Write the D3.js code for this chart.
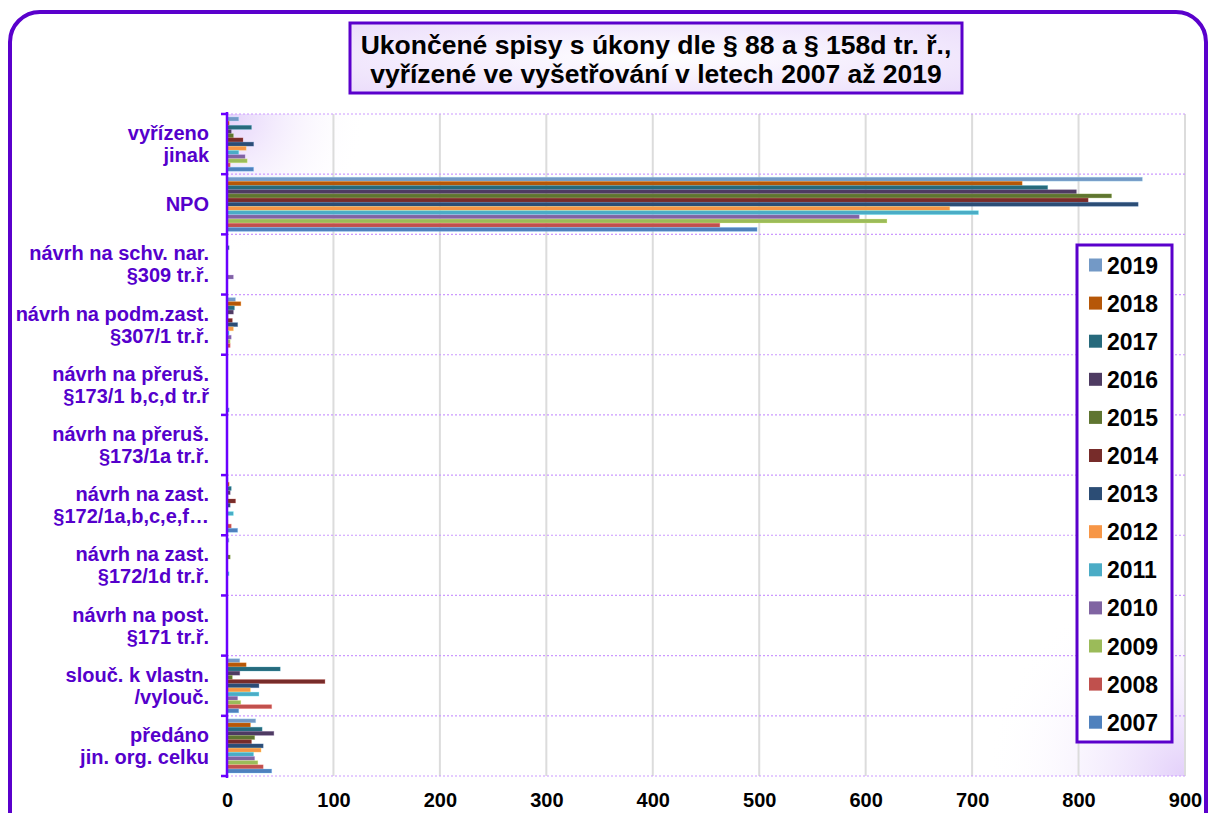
<!DOCTYPE html>
<html><head><meta charset="utf-8">
<script src="https://cdn.jsdelivr.net/npm/d3@7"></script>
<style>
html,body{margin:0;padding:0;background:#fff;}
svg{display:block;font-family:"Liberation Sans",Arial,sans-serif;}
</style></head>
<body><svg id="c" width="1210" height="813"></svg>
<script>
// ---- data ----
const categories = [
  ["vyřízeno","jinak"],
  ["NPO"],
  ["návrh na schv. nar.","§309 tr.ř."],
  ["návrh na podm.zast.","§307/1 tr.ř."],
  ["návrh na přeruš.","§173/1 b,c,d tr.ř"],
  ["návrh na přeruš.","§173/1a tr.ř."],
  ["návrh na zast.","§172/1a,b,c,e,f…"],
  ["návrh na zast.","§172/1d tr.ř."],
  ["návrh na post.","§171 tr.ř."],
  ["slouč. k vlastn.","/vylouč."],
  ["předáno","jin. org. celku"]
];
const years = ["2019","2018","2017","2016","2015","2014","2013","2012","2011","2010","2009","2008","2007"];
const colors = ["#7399C6","#B65708","#276A7C","#4E3B62","#5F7530","#772C2A","#2C4D75","#F79646","#4BACC6","#8064A2","#9BBB59","#C0504D","#4F81BD"];
const v2019 = [11, 860, 0, 8, 0, 0, 1, 2, 0, 12, 27];
const v2018 = [2, 747, 0, 13, 0, 0, 2, 0, 0, 18, 22];
const v2017 = [23, 771, 2, 7, 0, 0, 4, 0, 0, 50, 33];
const v2016 = [4, 798, 0, 6, 0, 0, 3, 0, 0, 12, 44];
const v2015 = [6, 831, 0, 1, 0, 0, 1, 3, 0, 5, 26];
const v2014 = [15, 809, 0, 5, 0, 0, 8, 0, 0, 92, 23];
const v2013 = [25, 856, 0, 10, 0, 0, 3, 0, 0, 30, 34];
const v2012 = [18, 679, 0, 6, 0, 0, 0, 0, 0, 22, 32];
const v2011 = [11, 706, 0, 2, 0, 0, 6, 2, 0, 30, 25];
const v2010 = [17, 594, 6, 4, 0, 0, 0, 0, 0, 10, 26];
const v2009 = [19, 620, 0, 3, 0, 0, 1, 0, 0, 13, 29];
const v2008 = [3, 463, 0, 3, 0, 0, 4, 0, 0, 42, 34];
const v2007 = [25, 498, 0, 0, 2, 0, 10, 0, 0, 11, 42];
const seriesValues = [v2019,v2018,v2017,v2016,v2015,v2014,v2013,v2012,v2011,v2010,v2009,v2008,v2007];
const xTicks = [0,100,200,300,400,500,600,700,800,900];
const titleLines = ["Ukončené spisy s úkony dle § 88 a § 158d tr. ř.,","vyřízené ve vyšetřování v letech 2007 až 2019"];

// ---- drawing ----
const svg = d3.select("#c");
const purple = "#5A00CC";
const L = 227, R = 1185, T = 114, B = 776;
const defs = svg.append("defs");
const g1 = defs.append("radialGradient").attr("id","gTL").attr("gradientUnits","userSpaceOnUse")
  .attr("cx",L).attr("cy",T).attr("r",140);
g1.append("stop").attr("offset","0").attr("stop-color","#E3D0FA");
g1.append("stop").attr("offset","1").attr("stop-color","#ffffff").attr("stop-opacity",0);
const g2 = defs.append("radialGradient").attr("id","gBR").attr("gradientUnits","userSpaceOnUse")
  .attr("cx",R).attr("cy",B).attr("r",200);
g2.append("stop").attr("offset","0").attr("stop-color","#E3D0FA");
g2.append("stop").attr("offset","1").attr("stop-color","#ffffff").attr("stop-opacity",0);
const g3 = defs.append("radialGradient").attr("id","gTitle").attr("cx","0.5").attr("cy","0.5").attr("r","0.7");
g3.append("stop").attr("offset","0").attr("stop-color","#ffffff");
g3.append("stop").attr("offset","1").attr("stop-color","#EBDDFB");

svg.append("rect").attr("width",1210).attr("height",813).attr("fill","#fff");
// outer frame
svg.append("rect").attr("x",10).attr("y",12).attr("width",1196).attr("height",900)
  .attr("rx",30).attr("fill","none").attr("stroke",purple).attr("stroke-width",4);

// plot background
svg.append("rect").attr("x",L).attr("y",T).attr("width",R-L).attr("height",B-T).attr("fill","url(#gTL)");
svg.append("rect").attr("x",L).attr("y",T).attr("width",R-L).attr("height",B-T).attr("fill","url(#gBR)");

const x = d3.scaleLinear().domain([0,900]).range([L,R]);
const y = d3.scaleBand().domain(d3.range(categories.length)).range([T,B]).padding(0);
const yi = d3.scaleBand().domain(d3.range(years.length)).range([3, y.bandwidth()-3]).paddingInner(0.05);

// vertical gridlines
svg.append("g").selectAll("line").data(xTicks.slice(1)).join("line")
  .attr("x1",d=>x(d)).attr("x2",d=>x(d)).attr("y1",T).attr("y2",B)
  .attr("stroke","#DCDCDC").attr("stroke-width",2);
// horizontal dashed gridlines
const bounds = d3.range(categories.length+1).map(i => i<categories.length ? y(i) : B);
svg.append("g").selectAll("line").data(bounds).join("line")
  .attr("x1",L).attr("x2",R).attr("y1",d=>d).attr("y2",d=>d)
  .attr("stroke","#CC99FF").attr("stroke-width",1.2).attr("stroke-dasharray","2,2");

// bars
const bars = svg.append("g");
seriesValues.forEach((vals, si) => {
  bars.append("g").selectAll("rect").data(vals).join("rect")
    .attr("x", x(0))
    .attr("y", (d,ci) => y(ci) + yi(si))
    .attr("width", d => x(d) - x(0))
    .attr("height", yi.bandwidth())
    .attr("fill", colors[si])
    .attr("stroke", d3.color(colors[si]).brighter(1.2).copy({opacity:0.35}))
    .attr("stroke-width", 0.8);
});

// y axis line and ticks
svg.append("line").attr("x1",L).attr("x2",L).attr("y1",T-2).attr("y2",B+2)
  .attr("stroke","#6A00FF").attr("stroke-width",2.5);
svg.append("g").selectAll("line").data(bounds).join("line")
  .attr("x1",L-6).attr("x2",L).attr("y1",d=>d).attr("y2",d=>d)
  .attr("stroke","#6A00FF").attr("stroke-width",2.5);

// category labels
const cl = svg.append("g").attr("font-weight","bold").attr("font-size",20).attr("fill","#5500CC").attr("text-anchor","end");
categories.forEach((lines, i) => {
  const cy = y(i) + y.bandwidth()/2;
  const lh = 22;
  const t = cl.append("text").attr("x",209).attr("y", cy - (lines.length-1)*lh/2 + 7);
  lines.forEach((ln, k) => t.append("tspan").attr("x",209).attr("dy", k===0?0:lh).text(ln));
});

// x axis labels
const xAxis = d3.axisBottom(x).tickValues(xTicks).tickSize(0).tickPadding(0);
const xa = svg.append("g").attr("transform",`translate(0,${B+31})`).call(xAxis);
xa.select(".domain").remove();
xa.selectAll("text").attr("font-size",20).attr("font-weight","bold").attr("fill","#000")
  .attr("font-family",'"Liberation Sans",Arial,sans-serif').attr("dy","0");

// title
svg.append("rect").attr("x",350).attr("y",23).attr("width",612).attr("height",70)
  .attr("fill","url(#gTitle)").attr("stroke",purple).attr("stroke-width",3);
const tt = svg.append("text").attr("text-anchor","middle").attr("font-weight","bold").attr("font-size",26.5).attr("fill","#000");
titleLines.forEach((ln,k)=> tt.append("tspan").attr("x",656).attr("y",54 + k*29).text(ln));

// legend
svg.append("rect").attr("x",1077).attr("y",245).attr("width",95).attr("height",497)
  .attr("fill","#fff").attr("stroke",purple).attr("stroke-width",3);
const lg = svg.append("g");
years.forEach((yr,i)=>{
  const cy = 265 + i*38.1;
  lg.append("rect").attr("x",1089).attr("y",cy-6.5).attr("width",13).attr("height",13).attr("fill",colors[i]);
  lg.append("text").attr("x",1107).attr("y",cy+8.5).attr("font-size",23).attr("font-weight","bold").attr("fill","#000").text(yr);
});
</script></body></html>
